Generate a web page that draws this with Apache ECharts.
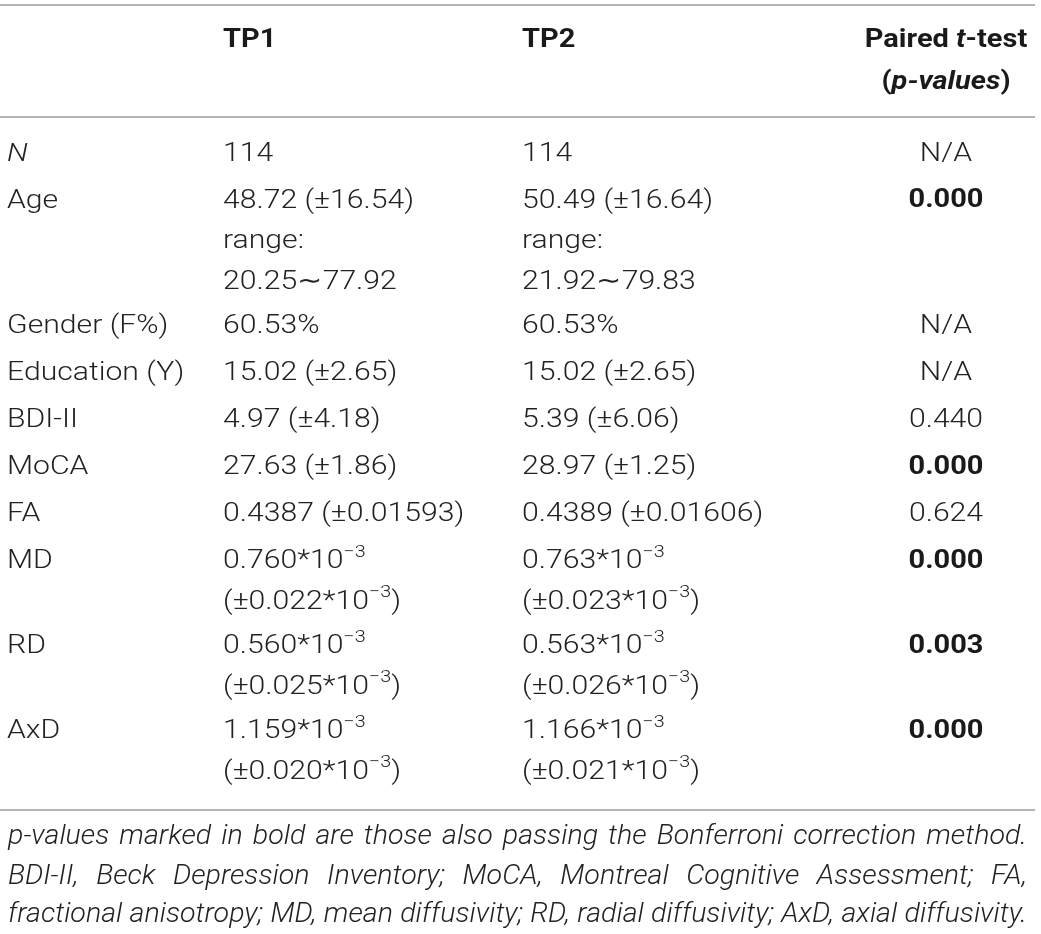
<!DOCTYPE html>
<html>
<head>
<meta charset="utf-8">
<script src="https://cdn.jsdelivr.net/npm/echarts@6/dist/echarts.min.js"></script>
<style>
  html, body { margin: 0; padding: 0; background: #fff; }
  #main { width: 1041px; height: 934px; }
</style>
</head>
<body>
<div id="main"></div>
<script>
// 表格数据 ( ^...^ 之间是上标)
var headers = ['TP1', 'TP2'];
var rowLabels = ['N', 'Age', 'Gender (F%)', 'Education (Y)', 'BDI-II', 'MoCA', 'FA', 'MD', 'RD', 'AxD'];
var labelItalic = [true, false, false, false, false, false, false, false, false, false];
var tp1 = [
  ['114'],
  ['48.72 (±16.54)', 'range:', '20.25∼77.92'],
  ['60.53%'],
  ['15.02 (±2.65)'],
  ['4.97 (±4.18)'],
  ['27.63 (±1.86)'],
  ['0.4387 (±0.01593)'],
  ['0.760*10^−3', '(±0.022*10^−3^)'],
  ['0.560*10^−3', '(±0.025*10^−3^)'],
  ['1.159*10^−3', '(±0.020*10^−3^)']
];
var tp2 = [
  ['114'],
  ['50.49 (±16.64)', 'range:', '21.92∼79.83'],
  ['60.53%'],
  ['15.02 (±2.65)'],
  ['5.39 (±6.06)'],
  ['28.97 (±1.25)'],
  ['0.4389 (±0.01606)'],
  ['0.763*10^−3', '(±0.023*10^−3^)'],
  ['0.563*10^−3', '(±0.026*10^−3^)'],
  ['1.166*10^−3', '(±0.021*10^−3^)']
];
var pValues = ['N/A', '0.000', 'N/A', 'N/A', '0.440', '0.000', '0.624', '0.000', '0.003', '0.000'];
var pBold = [false, true, false, false, false, true, false, true, true, true];
var footnote = [
  'p-values marked in bold are those also passing the Bonferroni correction method.',
  'BDI-II, Beck Depression Inventory; MoCA, Montreal Cognitive Assessment; FA,',
  'fractional anisotropy; MD, mean diffusivity; RD, radial diffusivity; AxD, axial diffusivity.'
];

(function() {
  var myChart = echarts.init(document.getElementById('main'));

  // 版式参数
  var FONT = 'Roboto';
  var SIZE = 26;
  var BOLD_SIZE = 25;
  var SX = 1.16;           // 原图字体偏宽
  var FOOT_SIZE = 27;
  var FOOT_SX = 1.06;
  var colX = [7, 223, 522];
  var pX = 946;
  var ruleX = [0, 1035];
  var rules = [5, 117, 810];
  var headY = [41, 83];
  var firstRowY = 154;
  var lineGap = 40.5;
  var textColor = '#222';
  var ruleColor = '#9b9b9b';

  var rich = {
    n: { fontFamily: FONT, fontSize: SIZE, fontWeight: 300, lineHeight: 35, fill: textColor },
    s: { fontFamily: FONT, fontSize: 17, fontWeight: 300, lineHeight: 18, verticalAlign: 'top', fill: textColor },
    b: { fontFamily: FONT, fontSize: BOLD_SIZE, fontWeight: 'bold', lineHeight: 34, fill: '#1a1a1a' },
    bi: { fontFamily: FONT, fontSize: BOLD_SIZE, fontWeight: 'bold', fontStyle: 'italic', lineHeight: 34, fill: '#1a1a1a' }
  };

  // "a^b^c" -> 普通/上标交替
  function toRich(str) {
    var parts = str.split('^');
    var out = '';
    parts.forEach(function(p, i) {
      if (p) out += '{' + (i % 2 ? 's' : 'n') + '|' + p + '}';
    });
    return out;
  }

  function text(x, y, str, align, extra, sx) {
    var style = {
      text: str,
      fontFamily: FONT,
      fontSize: SIZE,
      fontWeight: 300,
      fill: textColor,
      align: align || 'left',
      verticalAlign: 'middle',
      textAlign: align || 'left',
      textVerticalAlign: 'middle',
      rich: rich
    };
    for (var k in extra) style[k] = extra[k];
    return { type: 'text', x: x, y: y, scaleX: sx || SX, silent: true, style: style };
  }

  var elements = [];

  // 横线
  rules.forEach(function(y) {
    elements.push({
      type: 'line',
      shape: { x1: ruleX[0], y1: y, x2: ruleX[1], y2: y },
      style: { stroke: ruleColor, lineWidth: 1.5 }
    });
  });

  // 表头
  headers.forEach(function(h, i) {
    elements.push(text(colX[i + 1], headY[0], '{b|' + h + '}'));
  });
  elements.push(text(pX, headY[0], '{b|Paired }{bi|t}{b|-test}', 'center'));
  elements.push(text(pX, headY[1], '{b|(}{bi|p-values}{b|)}', 'center'));

  // 数据行
  var y = firstRowY;
  rowLabels.forEach(function(label, r) {
    elements.push(text(colX[0], y, label, 'left', labelItalic[r] ? { fontStyle: 'italic' } : {}));
    [tp1[r], tp2[r]].forEach(function(lines, c) {
      lines.forEach(function(line, j) {
        elements.push(text(colX[c + 1], y + j * lineGap, toRich(line)));
      });
    });
    elements.push(text(pX, y, pBold[r] ? '{b|' + pValues[r] + '}' : pValues[r], 'center'));
    var n = Math.max(tp1[r].length, tp2[r].length);
    y += (n - 1) * lineGap + (n > 1 ? 44.5 : 47);
  });

  // 脚注：两端对齐
  var footY = [837, 877, 915];
  var footX = [8, 1027];
  var ctx = document.createElement('canvas').getContext('2d');
  ctx.font = 'italic 300 ' + FOOT_SIZE + 'px ' + FONT;
  footnote.forEach(function(line, i) {
    var words = line.split(' ');
    var widths = words.map(function(w) { return ctx.measureText(w).width * FOOT_SX; });
    var total = widths.reduce(function(a, b) { return a + b; }, 0);
    var gap = (footX[1] - footX[0] - total) / (words.length - 1);
    var x = footX[0];
    words.forEach(function(w, k) {
      elements.push(text(x, footY[i], w, 'left',
        { fontStyle: 'italic', fontSize: FOOT_SIZE, rich: null }, FOOT_SX));
      x += widths[k] + gap;
    });
  });

  var option = {
    backgroundColor: '#fff',
    animation: false,
    graphic: { elements: elements }
  };
  myChart.setOption(option);
})();
</script>
</body>
</html>
